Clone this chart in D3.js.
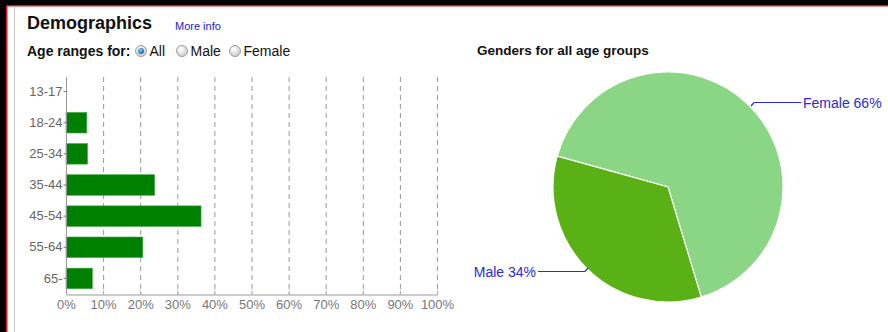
<!DOCTYPE html>
<html><head><meta charset="utf-8">
<script src="https://cdn.jsdelivr.net/npm/d3@7"></script>
<style>
html,body{margin:0;padding:0;background:#fff;overflow:hidden;}
svg{display:block;font-family:"Liberation Sans",Arial,sans-serif;}
</style></head>
<body>
<svg id="c" width="888" height="332"></svg>
<script>
const ageGroups = ["13-17","18-24","25-34","35-44","45-54","55-64","65-"];
const agePercent = [0, 5.6, 5.8, 23.9, 36.4, 20.7, 7.1];
const xTicks = [0,10,20,30,40,50,60,70,80,90,100];
const genders = ["Female","Male"];
const genderPercent = [66, 34];
const genderColors = ["#8bd684","#59b115"];
const radioOptions = ["All","Male","Female"];

const svg = d3.select("#c");

// frame
svg.append("rect").attr("x",0).attr("y",0).attr("width",888).attr("height",5).attr("fill","#000");
svg.append("rect").attr("x",0).attr("y",0).attr("width",6).attr("height",332).attr("fill","#000");
svg.append("rect").attr("x",6).attr("y",5).attr("width",882).attr("height",1.5).attr("fill","#e0141b");
svg.append("rect").attr("x",6).attr("y",5).attr("width",1.5).attr("height",327).attr("fill","#e0141b");
svg.append("rect").attr("x",14).attr("y",6.5).attr("width",1).attr("height",326).attr("fill","#c4c4c4");

// header
svg.append("text").attr("x",27).attr("y",29).attr("font-size",18).attr("font-weight","bold").attr("fill","#111").text("Demographics");
svg.append("text").attr("x",175).attr("y",30).attr("font-size",11).attr("fill","#2222cc").text("More info");
svg.append("text").attr("x",27).attr("y",56).attr("font-size",14).attr("font-weight","bold").attr("fill","#111").text("Age ranges for:");

// radios
const defs = svg.append("defs");
const g1 = defs.append("radialGradient").attr("id","rg").attr("cx","40%").attr("cy","35%").attr("r","70%");
g1.append("stop").attr("offset","0%").attr("stop-color","#ffffff");
g1.append("stop").attr("offset","100%").attr("stop-color","#c8c8c8");
const g2 = defs.append("radialGradient").attr("id","rb").attr("cx","40%").attr("cy","35%").attr("r","70%");
g2.append("stop").attr("offset","0%").attr("stop-color","#7fd0ff");
g2.append("stop").attr("offset","100%").attr("stop-color","#0a5c9c");
const radioX = [141, 182, 235];
radioOptions.forEach((o,i)=>{
  svg.append("circle").attr("cx",radioX[i]).attr("cy",51).attr("r",5.5).attr("fill","url(#rg)").attr("stroke","#8a8a8a").attr("stroke-width",0.8);
  if(i===0) svg.append("circle").attr("cx",radioX[i]).attr("cy",51).attr("r",3).attr("fill","url(#rb)");
  svg.append("text").attr("x",radioX[i]+8.5).attr("y",56).attr("font-size",14).attr("fill","#111").text(o);
});

// bar chart
const x = d3.scaleLinear().domain([0,100]).range([66,437]);
const y = d3.scaleBand().domain(ageGroups).range([76,294]).paddingInner(0.34).paddingOuter(0.17);
const bc = svg.append("g");
bc.selectAll("line.grid").data(xTicks.slice(1)).join("line")
  .attr("x1",d=>x(d)+0.5).attr("x2",d=>x(d)+0.5).attr("y1",77).attr("y2",294)
  .attr("stroke","#999").attr("stroke-dasharray","5,4").attr("stroke-width",1);
bc.selectAll("rect.bar").data(agePercent).join("rect")
  .attr("x",x(0)).attr("y",(d,i)=>y(ageGroups[i]))
  .attr("width",d=>x(d)-x(0)).attr("height",y.bandwidth())
  .attr("fill","#008000").attr("stroke","#3fa83f").attr("stroke-width",0.6);
const xa = bc.append("g").attr("transform","translate(0,294.5)")
  .call(d3.axisBottom(x).tickValues(xTicks).tickFormat(d=>d+"%").tickSize(4).tickSizeOuter(0));
xa.select(".domain").attr("stroke","#bbb").attr("stroke-width",1.5);
xa.selectAll(".tick line").attr("stroke","#aaa").attr("transform","translate(0,-4)");
xa.selectAll(".tick text").attr("fill","#777").attr("font-size",13).attr("dy","0.85em").attr("y",3);
const ya = bc.append("g").attr("transform","translate(66.5,0)")
  .call(d3.axisLeft(y).tickSize(3).tickSizeOuter(0).tickPadding(1));
ya.select(".domain").attr("stroke","#999").attr("d","M0,77V294");
ya.selectAll(".tick line").attr("stroke","#777");
ya.selectAll(".tick text").attr("fill","#666").attr("font-size",13);

// pie
svg.append("text").attr("x",477).attr("y",55).attr("font-size",13.5).attr("font-weight","bold").attr("fill","#111").text("Genders for all age groups");
const cx = 668, cy = 187, r = 115;
const start = -74.4*Math.PI/180;
const pie = d3.pie().sort(null).startAngle(start).endAngle(start+2*Math.PI)(genderPercent);
const arc = d3.arc().innerRadius(0).outerRadius(r);
const pg = svg.append("g").attr("transform",`translate(${cx},${cy})`);
pg.selectAll("path").data(pie).join("path").attr("d",arc)
  .attr("fill",(d,i)=>genderColors[i]).attr("stroke","#fff").attr("stroke-width",1.2);

// labels
const lblColor = "#2a2ad6";
const femalePts = [[751,106],[754,102.5],[801,102.5]];
const malePts = [[588,268],[585,271.5],[538,271.5]];
svg.append("path").attr("d",d3.line()(femalePts)).attr("fill","none").attr("stroke",lblColor).attr("stroke-width",1.2);
svg.append("path").attr("d",d3.line()(malePts)).attr("fill","none").attr("stroke",lblColor).attr("stroke-width",1.2);
svg.append("text").attr("x",803).attr("y",107.5).attr("font-size",14).attr("fill",lblColor).text(`${genders[0]} ${genderPercent[0]}%`);
svg.append("text").attr("x",536).attr("y",276.5).attr("text-anchor","end").attr("font-size",14).attr("fill",lblColor).text(`${genders[1]} ${genderPercent[1]}%`);
</script>
</body></html>
